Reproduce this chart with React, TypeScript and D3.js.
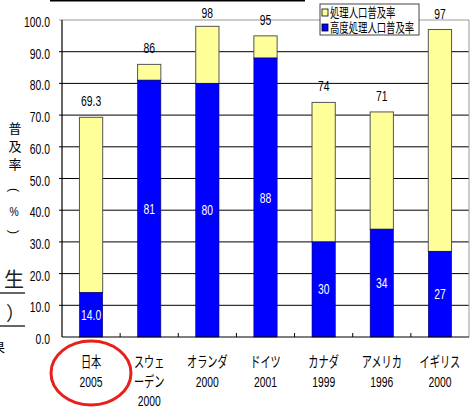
import * as d3 from "d3";

// 処理人口普及率 / 高度処理人口普及率 (%)
const categories = ["日本", "スウェ\nーデン", "オランダ", "ドイツ", "カナダ", "アメリカ", "イギリス"];
const years = ["2005", "2000", "2000", "2001", "1999", "1996", "2000"];
const totalRate = [69.3, 86, 98, 95, 74, 71, 97];
const advancedRate = [14.0, 81, 80, 88, 30, 34, 27];
const totalLabels = ["69.3", "86", "98", "95", "74", "71", "97"];
const advancedLabels = ["14.0", "81", "80", "88", "30", "34", "27"];
const yTickValues = [0, 10, 20, 30, 40, 50, 60, 70, 80, 90, 100];
const legendLabels = ["処理人口普及率", "高度処理人口普及率"];

const width = 473;
const height = 409;
const marginLeft = 62;
const marginRight = 4;
const marginTop = 20;
const marginBottom = 72;

const YELLOW = "#FFFF99";
const BLUE = "#0000FF";
const FONT = "'Liberation Sans', Arial, 'Noto Sans CJK JP', sans-serif";

function NText({ x, y, children, anchor = "middle", size = 14, sx = 0.74, fill = "#000" }: any) {
  return (
    <text
      transform={`translate(${x},${y}) scale(${sx},1)`}
      textAnchor={anchor}
      fontSize={size}
      fontFamily={FONT}
      fill={fill}
    >
      {children}
    </text>
  );
}

export default function App() {
  const x = d3
    .scaleBand<string>()
    .domain(categories)
    .range([marginLeft, width - marginRight])
    .padding(0);
  const y = d3
    .scaleLinear()
    .domain([0, 100])
    .range([height - marginBottom, marginTop]);

  const barW = x.bandwidth() * 0.4;
  const x0 = marginLeft;
  const x1 = width - marginRight;
  const yb = y(0);

  return (
    <svg
      width={width}
      height={height}
      style={{ position: "absolute", left: 0, top: 0, background: "#fff" }}
    >
      {/* clipped slide remnants */}
      <line x1={50} x2={305} y1={0.5} y2={0.5} stroke="#000" strokeWidth={2} />
      <text x={15} y={133} fontSize={13} textAnchor="middle" fontFamily="'Noto Sans CJK JP'">普</text>
      <text x={15} y={151} fontSize={13} textAnchor="middle" fontFamily="'Noto Sans CJK JP'">及</text>
      <text x={15} y={169} fontSize={13} textAnchor="middle" fontFamily="'Noto Sans CJK JP'">率</text>
      <text transform="translate(14,190) rotate(90)" fontSize={12} textAnchor="middle" dominantBaseline="central" fontFamily={FONT}>(</text>
      <NText x={14} y={216} size={13} sx={0.8}>%</NText>
      <text transform="translate(14,232) rotate(90)" fontSize={12} textAnchor="middle" dominantBaseline="central" fontFamily={FONT}>)</text>
      <text x={14} y={287} fontSize={20} textAnchor="middle" fontFamily="'Noto Sans CJK JP'" fill="#222">生</text>
      <line x1={0} x2={25} y1={293} y2={293} stroke="#000" strokeWidth={1.2} />
      <text x={6} y={321} fontSize={19} fontFamily="'Noto Sans CJK JP'" fill="#222">）</text>
      <line x1={0} x2={25} y1={326} y2={326} stroke="#000" strokeWidth={1.2} />
      <text x={-8} y={352} fontSize={13} fontFamily="'Noto Sans CJK JP'">果</text>

      {/* grid */}
      {yTickValues.filter((v) => v > 0 && v < 100).map((v) => (
        <line key={v} x1={x0 - 3} x2={x1} y1={y(v)} y2={y(v)} stroke="#000" strokeWidth={1} />
      ))}
      <line x1={x0 - 3} x2={x1} y1={y(100)} y2={y(100)} stroke="#999" strokeWidth={1} />
      <line x1={x1} x2={x1} y1={y(100)} y2={yb} stroke="#999" strokeWidth={1} />

      {/* y tick labels */}
      {yTickValues.map((v) => (
        <NText key={v} x={50} y={y(v) + 7} anchor="end">
          {v.toFixed(1)}
        </NText>
      ))}

      {/* bars */}
      {categories.map((c, i) => {
        const cx = (x(c) as number) + x.bandwidth() / 2;
        return (
          <g key={c}>
            <rect
              x={cx - barW / 2}
              y={y(totalRate[i])}
              width={barW}
              height={y(advancedRate[i]) - y(totalRate[i])}
              fill={YELLOW}
              stroke="#555"
              strokeWidth={1}
            />
            <rect
              x={cx - barW / 2}
              y={y(advancedRate[i])}
              width={barW}
              height={yb - y(advancedRate[i])}
              fill={BLUE}
              stroke="#000066"
              strokeWidth={0.6}
            />
            <NText x={cx} y={Math.max(y(totalRate[i]) - 16, 13) + 5}>
              {totalLabels[i]}
            </NText>
            <NText x={cx} y={y(advancedRate[i] / 2) + 5} fill="#fff">
              {advancedLabels[i]}
            </NText>
          </g>
        );
      })}

      {/* axes */}
      <line x1={x0} x2={x0} y1={y(100)} y2={yb} stroke="#000" strokeWidth={1.2} />
      <line x1={x0} x2={x1} y1={yb} y2={yb} stroke="#000" strokeWidth={1.2} />
      {categories.slice(1).map((c) => (
        <line key={c} x1={x(c)} x2={x(c)} y1={yb} y2={yb - 4} stroke="#000" strokeWidth={1} />
      ))}

      {/* category labels */}
      {categories.map((c, i) => {
        const cx = (x(c) as number) + x.bandwidth() / 2;
        const names = c.split("\n");
        return (
          <g key={c}>
            {names.map((t, j) => (
              <NText key={j} x={cx} y={367 + j * 19.5} size={15} sx={0.68}>
                {t}
              </NText>
            ))}
            <NText x={cx} y={367 + names.length * 19.5} sx={0.74}>
              {years[i]}
            </NText>
          </g>
        );
      })}

      {/* highlight */}
      <ellipse cx={91} cy={373} rx={40} ry={32} fill="none" stroke="#E8201C" strokeWidth={3} />

      {/* legend */}
      <rect x={320} y={4} width={99} height={31} fill="#fff" stroke="#444" strokeWidth={1} />
      {legendLabels.map((t, i) => (
        <g key={t}>
          <rect x={322} y={9 + i * 15} width={6} height={7} fill={i === 0 ? YELLOW : BLUE} stroke="#000" strokeWidth={0.8} />
          <NText x={330} y={17 + i * 15} anchor="start" size={13} sx={0.72}>
            {t}
          </NText>
        </g>
      ))}
    </svg>
  );
}
